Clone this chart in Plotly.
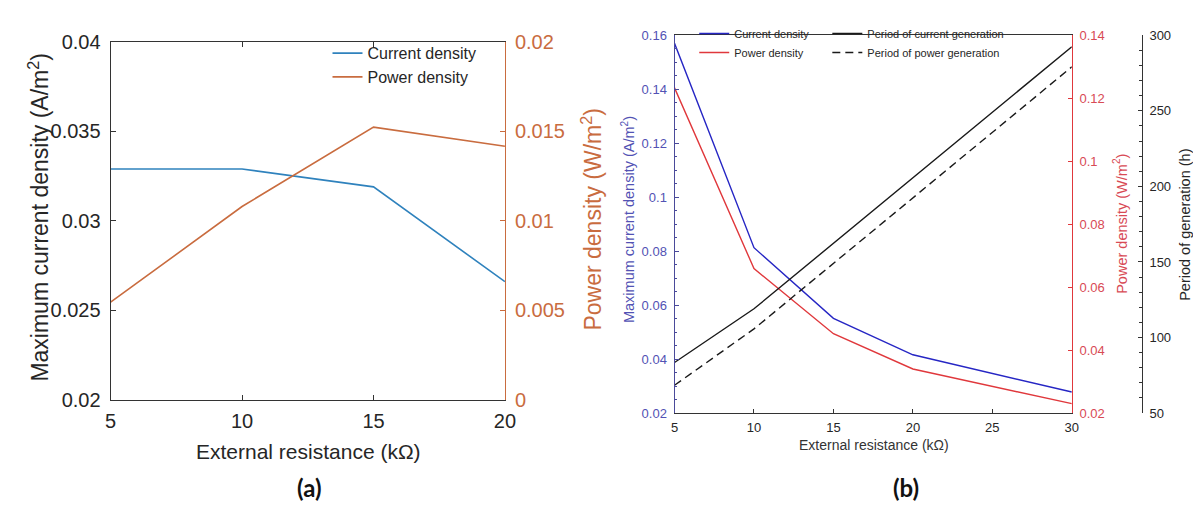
import plotly.graph_objects as go

# ---------------- data : panel (a) ----------------
res_a = [5, 10, 15, 20]
current_a = [0.0329, 0.0329, 0.0319, 0.0266]
power_a = [0.00545, 0.0108, 0.01524, 0.01417]
xticks_a = [5, 10, 15, 20]
yl_vals_a = [0.02, 0.025, 0.03, 0.035, 0.04]
yl_text_a = ["0.02", "0.025", "0.03", "0.035", "0.04"]
yr_vals_a = [0, 0.005, 0.01, 0.015, 0.02]
yr_text_a = ["0", "0.005", "0.01", "0.015", "0.02"]

# ---------------- data : panel (b) ----------------
res_b = [5, 10, 15, 20, 30]
current_b = [0.157, 0.0813, 0.0551, 0.0416, 0.0278]
power_b = [0.1233, 0.0659, 0.0452, 0.034, 0.023]
res_b_period = [5, 10, 30]
period_current = [83.5, 119.0, 292.4]
period_power = [68.4, 105.7, 279.1]
xticks_b = [5, 10, 15, 20, 25, 30]
yl_vals_b = [0.02, 0.04, 0.06, 0.08, 0.1, 0.12, 0.14, 0.16]
yl_text_b = ["0.02", "0.04", "0.06", "0.08", "0.1", "0.12", "0.14", "0.16"]
yr_vals_b = [0.02, 0.04, 0.06, 0.08, 0.1, 0.12, 0.14]
yr_text_b = ["0.02", "0.04", "0.06", "0.08", "0.1", "0.12", "0.14"]
yp_vals_b = [50, 100, 150, 200, 250, 300]

W, H = 1201, 506
FONT = "Liberation Sans, Arial, sans-serif"
A_BLUE = "#2f82bd"
A_ORANGE = "#c96c3f"
A_TXT = "#262626"
B_BLUE = "#2626c4"
B_BLUE_T = "#5252b4"
B_RED = "#e0383c"
B_RED_T = "#d84a55"
B_BLACK = "#1a1a1a"


def px(x):
    return x / W


def py(y):
    return 1 - y / H


fig = go.Figure()

# panel (a)
fig.add_trace(go.Scatter(x=res_a, y=current_a, mode="lines", name="Current density",
                         line=dict(color=A_BLUE, width=1.6), xaxis="x", yaxis="y", legend="legend"))
fig.add_trace(go.Scatter(x=res_a, y=power_a, mode="lines", name="Power density",
                         line=dict(color=A_ORANGE, width=1.6), xaxis="x", yaxis="y2", legend="legend"))

# panel (b)
fig.add_trace(go.Scatter(x=res_b, y=current_b, mode="lines", name="Current density",
                         line=dict(color=B_BLUE, width=1.4), xaxis="x2", yaxis="y3", legend="legend2"))
fig.add_trace(go.Scatter(x=res_b, y=power_b, mode="lines", name="Power density",
                         line=dict(color=B_RED, width=1.4), xaxis="x2", yaxis="y4", legend="legend2"))
fig.add_trace(go.Scatter(x=res_b_period, y=period_current, mode="lines", name="Period of current generation",
                         line=dict(color=B_BLACK, width=1.4), xaxis="x2", yaxis="y5", legend="legend3"))
fig.add_trace(go.Scatter(x=res_b_period, y=period_power, mode="lines", name="Period of power generation",
                         line=dict(color=B_BLACK, width=1.4, dash="8px,5px"), xaxis="x2", yaxis="y5",
                         legend="legend3"))

dom_a_x = [px(98), px(498)]
dom_a_y = [py(398), py(24)]
dom_b_x = [px(670), px(1073)]
dom_b_y = [py(412), py(17)]

fig.update_layout(
    width=W, height=H,
    margin=dict(l=0, r=0, t=0, b=0),
    paper_bgcolor="white", plot_bgcolor="white",
    font=dict(family=FONT, color=A_TXT),
    # ---- panel (a) axes
    xaxis=dict(domain=dom_a_x, anchor="y", range=[5, 20], tickvals=xticks_a,
               ticks="inside", ticklen=5, tickcolor="#333", showline=True, linecolor="#333",
               linewidth=1, mirror="ticks", showgrid=False, zeroline=False, ticklabelstandoff=3,
               tickfont=dict(size=20, color=A_TXT)),
    yaxis=dict(domain=dom_a_y, anchor="x", range=[0.02, 0.04], tickvals=yl_vals_a, ticktext=yl_text_a,
               ticks="inside", ticklen=5, tickcolor="#333", showline=True, linecolor="#333",
               linewidth=1, showgrid=False, zeroline=False, ticklabelstandoff=5,
               tickfont=dict(size=20, color=A_TXT)),
    yaxis2=dict(domain=dom_a_y, anchor="x", overlaying="y", side="right", range=[0, 0.02],
                tickvals=yr_vals_a, ticktext=yr_text_a, ticks="inside", ticklen=5, tickcolor=A_ORANGE,
                showline=True, linecolor=A_ORANGE, linewidth=1, showgrid=False, zeroline=False,
                ticklabelstandoff=5, tickfont=dict(size=20, color=A_ORANGE)),
    # ---- panel (b) axes
    xaxis2=dict(domain=dom_b_x, anchor="y3", range=[5, 30], tickvals=xticks_b,
                ticks="inside", ticklen=4, tickcolor="#333", showline=True, linecolor="#333",
                linewidth=1, mirror=True, showgrid=False, zeroline=False, ticklabelstandoff=2,
                tickfont=dict(size=13, color=A_TXT)),
    yaxis3=dict(domain=dom_b_y, anchor="x2", range=[0.02, 0.16], tickvals=yl_vals_b, ticktext=yl_text_b,
                ticks="inside", ticklen=4, tickcolor="#4a4a9a", showline=True, linecolor="#4a4a9a",
                linewidth=1, showgrid=False, zeroline=False, ticklabelstandoff=4,
                tickfont=dict(size=13, color=B_BLUE_T),
                minor=dict(dtick=0.005, ticks="inside", ticklen=2, tickcolor="#4a4a9a", showgrid=False)),
    yaxis4=dict(domain=dom_b_y, anchor="x2", overlaying="y3", side="right", range=[0.02, 0.14],
                tickvals=yr_vals_b, ticktext=yr_text_b, ticks="inside", ticklen=4, tickcolor=B_RED,
                showline=True, linecolor=B_RED, linewidth=1, showgrid=False, zeroline=False,
                ticklabelstandoff=4, tickfont=dict(size=13, color=B_RED_T)),
    yaxis5=dict(domain=dom_b_y, anchor="free", position=px(1144), overlaying="y3", side="right",
                range=[50, 300], tickvals=yp_vals_b, ticks="inside", ticklen=4, tickcolor="#333",
                showline=True, linecolor="#333", linewidth=1, showgrid=False, zeroline=False,
                ticklabelstandoff=4, tickfont=dict(size=13, color=A_TXT),
                minor=dict(dtick=10, ticks="inside", ticklen=2.5, tickcolor="#333", showgrid=False)),
    # ---- legends
    legend=dict(x=px(318), y=py(18), xanchor="left", yanchor="top", bgcolor="rgba(255,255,255,0)",
                font=dict(size=16, color=A_TXT), tracegroupgap=0, itemwidth=30),
    legend2=dict(x=px(690), y=py(0), xanchor="left", yanchor="top", bgcolor="rgba(255,255,255,0)",
                 font=dict(size=11, color=A_TXT), tracegroupgap=0, itemwidth=30),
    legend3=dict(x=px(825), y=py(0), xanchor="left", yanchor="top", bgcolor="rgba(255,255,255,0)",
                 font=dict(size=11, color=A_TXT), tracegroupgap=0, itemwidth=30),
    showlegend=True,
)

ann = [
    # panel (a) titles
    dict(text="External resistance (k\u03a9)", x=px(299), y=py(452), font=dict(size=21, color=A_TXT)),
    dict(text="Maximum current density (A/m<sup>2</sup>)", x=px(25), y=py(208), textangle=-90,
         font=dict(size=23, color=A_TXT)),
    dict(text="Power density (W/m<sup>2</sup>)", x=px(586), y=py(210), textangle=-90,
         font=dict(size=23, color=A_ORANGE)),
    # panel (b) titles
    dict(text="External resistance (k\u03a9)", x=px(872), y=py(445), font=dict(size=14, color="#333")),
    dict(text="Maximum current density (A/m<sup>2</sup>)", x=px(623), y=py(210), textangle=-90,
         font=dict(size=14.5, color=B_BLUE_T)),
    dict(text="Power density (W/m<sup>2</sup>)", x=px(1122), y=py(214), textangle=-90,
         font=dict(size=14.5, color=B_RED_T)),
    dict(text="Period of generation (h)", x=px(1187), y=py(215), textangle=-90,
         font=dict(size=14.5, color=A_TXT)),
    # panel labels
    dict(text="<b>(a)</b>", x=px(300), y=py(490), font=dict(size=24, family="Lato, Open Sans, sans-serif",
                                                         color="#111")),
    dict(text="<b>(b)</b>", x=px(905), y=py(490), font=dict(size=24, family="Lato, Open Sans, sans-serif",
                                                         color="#111")),
]
for a in ann:
    a.update(xref="paper", yref="paper", xanchor="center", yanchor="middle", showarrow=False)
fig.update_layout(annotations=ann)

fig.write_html("out.html")
